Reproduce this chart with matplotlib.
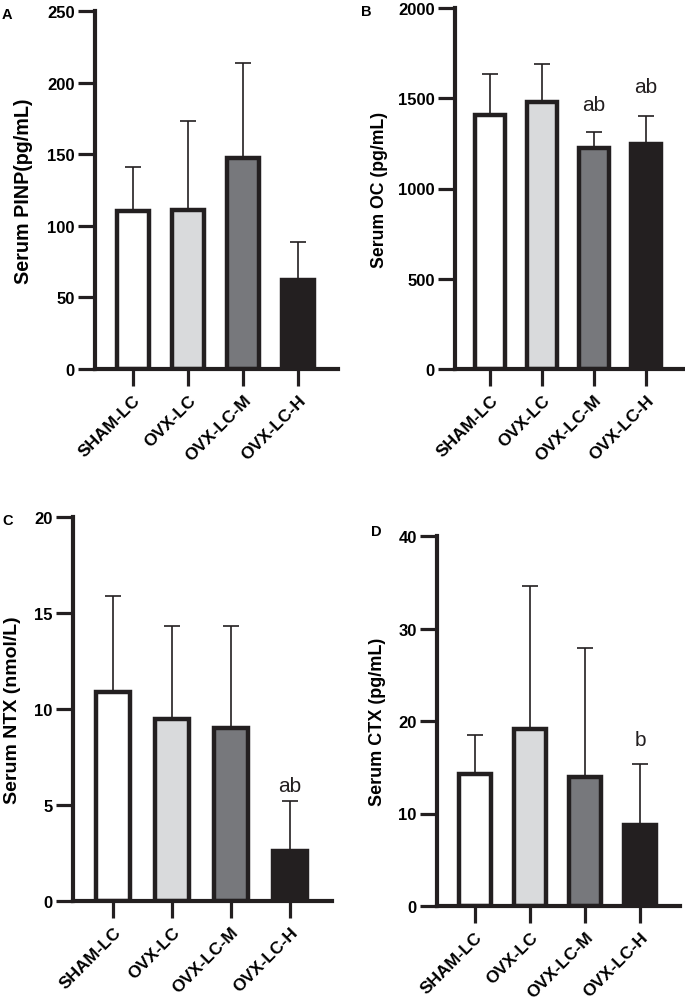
import matplotlib
matplotlib.use("Agg")
import matplotlib.pyplot as plt

plt.rcParams['font.family'] = ['Liberation Sans', 'DejaVu Sans']

groups = ["SHAM-LC", "OVX-LC", "OVX-LC-M", "OVX-LC-H"]
colors = ["#ffffff", "#d9dadc", "#77787c", "#231f20"]
edge = "#231f20"

pinp_mean = [110, 111, 147, 62]
pinp_sd = [31, 62, 67, 27]
oc_mean = [1407, 1481, 1223, 1248]
oc_sd = [227, 209, 92, 155]
ntx_mean = [10.9, 9.5, 9.0, 2.6]
ntx_sd = [5.0, 4.8, 5.3, 2.6]
ctx_mean = [14.3, 19.1, 13.9, 8.8]
ctx_sd = [4.2, 15.5, 14.0, 6.5]

oc_marks = ["", "", "ab", "ab"]
ntx_marks = ["", "", "", "ab"]
ctx_marks = ["", "", "", "b"]

panels = [
    dict(letter="A", mean=pinp_mean, sd=pinp_sd, marks=None, gap=0, ylim=250, yticks=[0, 50, 100, 150, 200, 250],
         ylabel="Serum PINP(pg/mL)", ylsize=14.2, labx=33, rect=(95, 12, 338, 370), lpos=(2, 15)),
    dict(letter="B", mean=oc_mean, sd=oc_sd, marks=oc_marks, gap=[0, 0, 95, 110], ylim=2000,
         yticks=[0, 500, 1000, 1500, 2000],
         ylabel="Serum OC (pg/mL)", ylsize=12.7, labx=388, rect=(455, 9, 683, 370), lpos=(361, 12)),
    dict(letter="C", mean=ntx_mean, sd=ntx_sd, marks=ntx_marks, gap=[0, 0, 0, 0.3], ylim=20,
         yticks=[0, 5, 10, 15, 20],
         ylabel="Serum NTX (nmol/L)", ylsize=14, labx=21, rect=(73, 518, 332, 902), lpos=(2, 521)),
    dict(letter="D", mean=ctx_mean, sd=ctx_sd, marks=ctx_marks, gap=[0, 0, 0, 1.7], ylim=40,
         yticks=[0, 10, 20, 30, 40],
         ylabel="Serum CTX (pg/mL)", ylsize=13, labx=386, rect=(437, 537, 680, 907), lpos=(371, 532)),
]

W, H = 685, 1003
fig = plt.figure(figsize=(W / 100, H / 100), dpi=100)

for p in panels:
    x0, y0, x1, y1 = p["rect"]
    ax = fig.add_axes([x0 / W, 1 - y1 / H, (x1 - x0) / W, (y1 - y0) / H])
    xs = list(range(len(groups)))
    for i in xs:
        ax.errorbar(i, p["mean"][i], yerr=[[0], [p["sd"][i]]], fmt="none", ecolor=edge,
                    elinewidth=1.2, capsize=6, capthick=1.2, zorder=1)
    ax.bar(xs, p["mean"], width=0.58, color=colors, edgecolor=edge, linewidth=3.2, zorder=2)
    if p["marks"]:
        for i, m in enumerate(p["marks"]):
            if m:
                ax.text(i, p["mean"][i] + p["sd"][i] + p["gap"][i], m, ha="center", va="bottom",
                        fontsize=15, color=edge)
    ax.set_xlim(-0.68, 3.72)
    ax.set_ylim(0, p["ylim"])
    ax.set_yticks(p["yticks"])
    ax.set_yticklabels([str(t) for t in p["yticks"]], fontsize=12, fontweight="bold")
    ax.set_xticks(xs)
    ax.set_xticklabels(groups, rotation=45, ha="right", rotation_mode="anchor", fontsize=12.5,
                       fontweight="bold")
    for s in ["top", "right"]:
        ax.spines[s].set_visible(False)
    for s in ["left", "bottom"]:
        ax.spines[s].set_linewidth(3)
        ax.spines[s].set_color(edge)
    ax.tick_params(axis="both", length=12.5, width=2.3, color=edge, direction="out", pad=2)
    ax.tick_params(axis="x", pad=4)
    ax.set_ylabel(p["ylabel"], fontsize=p["ylsize"], fontweight="bold")
    ax.yaxis.set_label_coords((p["labx"] - x0) / (x1 - x0), 0.5)
    fig.text(p["lpos"][0] / W, 1 - p["lpos"][1] / H, p["letter"], fontsize=10.5, fontweight="bold",
             ha="left", va="center")

fig.savefig("out.png", dpi=100)
